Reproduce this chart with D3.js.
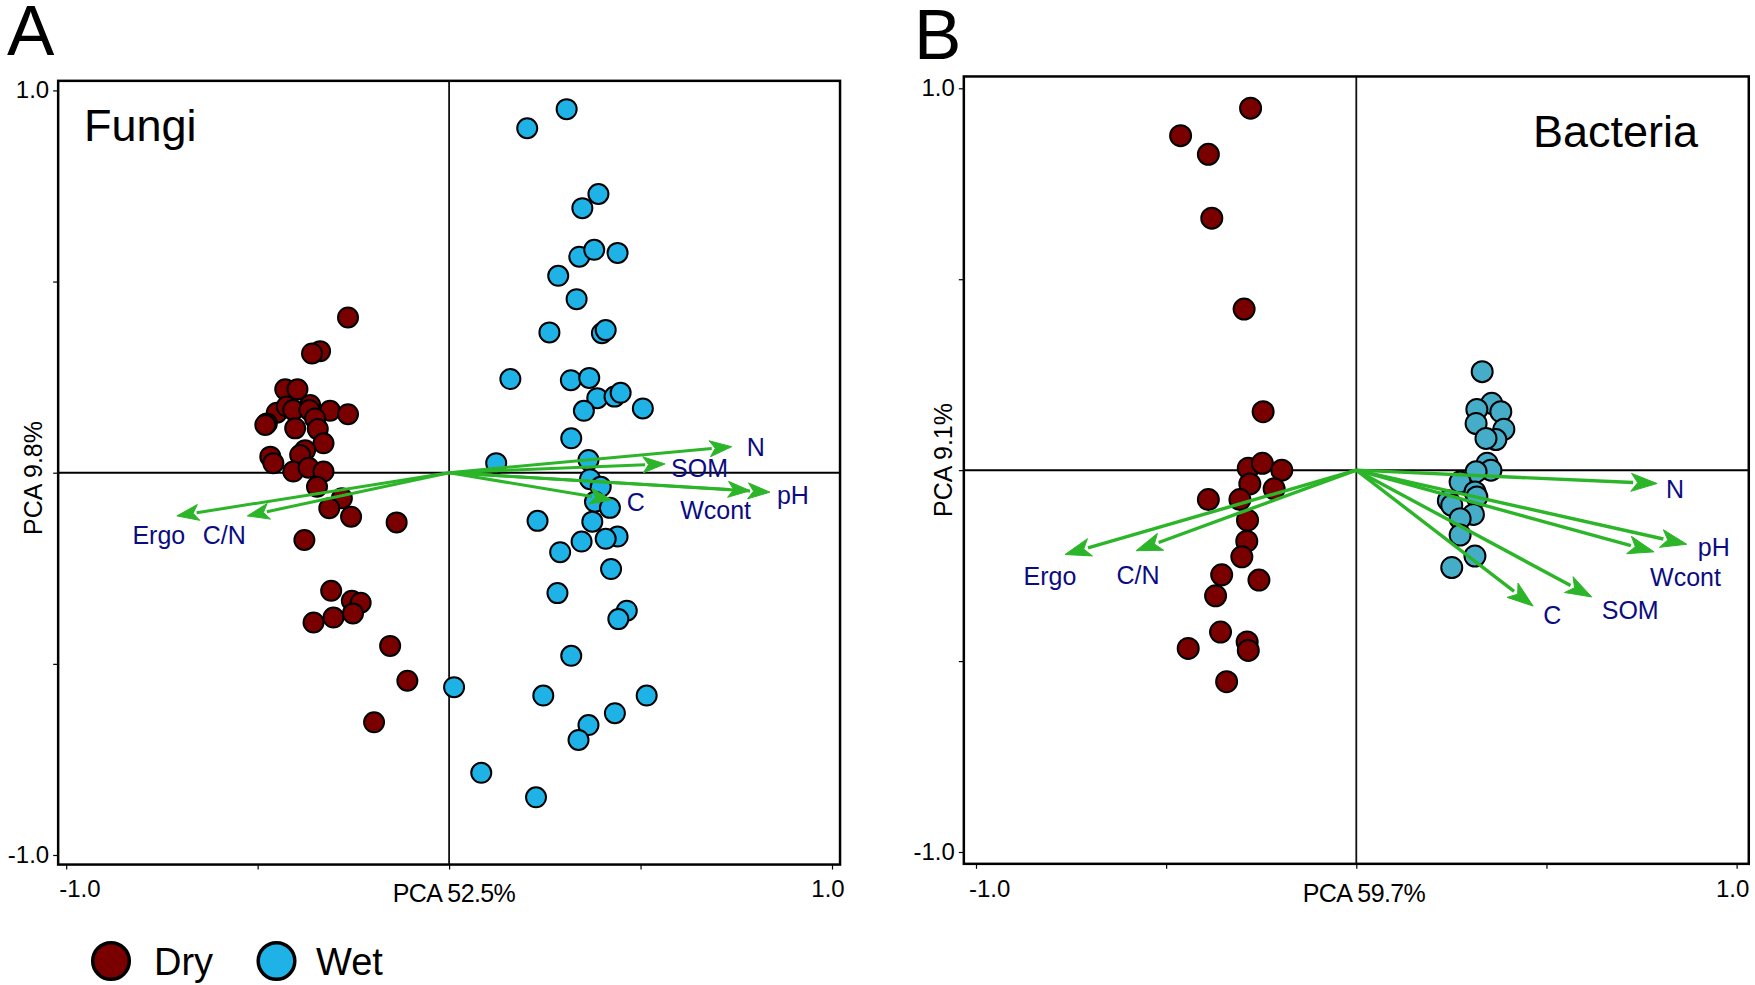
<!DOCTYPE html>
<html><head><meta charset="utf-8">
<script src="https://cdn.jsdelivr.net/npm/d3@7"></script>
<style>html,body{margin:0;padding:0;background:#fff;} svg{display:block;}</style>
</head><body>
<svg id="chart" width="1755" height="985"></svg>
<script>
// ---------------- DATA ----------------
const fungiDry = [
 [-0.264,0.406],[-0.337,0.318],[-0.358,0.312],[-0.428,0.218],[-0.396,0.218],[-0.450,0.157],
 [-0.424,0.173],[-0.407,0.164],[-0.363,0.177],[-0.365,0.164],[-0.311,0.162],[-0.264,0.153],
 [-0.476,0.129],[-0.480,0.125],[-0.350,0.142],[-0.402,0.116],[-0.343,0.114],[-0.328,0.077],
 [-0.467,0.042],[-0.459,0.025],[-0.376,0.059],[-0.389,0.046],[-0.407,0.003],[-0.367,0.013],
 [-0.328,0.003],[-0.345,-0.037],[-0.280,-0.067],[-0.313,-0.093],[-0.256,-0.115],[-0.137,-0.130],
 [-0.378,-0.176],[-0.308,-0.309],[-0.254,-0.335],[-0.231,-0.340],[-0.302,-0.379],[-0.251,-0.368],
 [-0.354,-0.392],[-0.154,-0.453],[-0.109,-0.544],[-0.196,-0.653]
];
const fungiWet = [
 [0.307,0.951],[0.204,0.901],[0.390,0.729],[0.348,0.692],[0.340,0.565],[0.379,0.583],
 [0.440,0.575],[0.285,0.515],[0.333,0.454],[0.262,0.367],[0.399,0.365],[0.409,0.373],
 [0.160,0.245],[0.318,0.242],[0.366,0.248],[0.387,0.195],[0.432,0.199],[0.448,0.209],
 [0.506,0.168],[0.352,0.162],[0.319,0.090],[0.123,0.025],[0.364,0.033],[0.368,-0.017],
 [0.396,-0.037],[0.381,-0.076],[0.420,-0.092],[0.231,-0.126],[0.374,-0.128],[0.440,-0.167],
 [0.409,-0.173],[0.346,-0.180],[0.290,-0.208],[0.423,-0.252],[0.283,-0.315],[0.464,-0.361],
 [0.442,-0.383],[0.319,-0.479],[0.013,-0.561],[0.246,-0.583],[0.516,-0.583],[0.433,-0.629],
 [0.364,-0.660],[0.338,-0.699],[0.084,-0.785],[0.227,-0.849]
];
const bactDry = [
 [-0.278,0.948],[-0.462,0.876],[-0.389,0.827],[-0.380,0.660],[-0.295,0.422],[-0.245,0.153],
 [-0.284,0.005],[-0.247,0.018],[-0.196,0.000],[-0.280,-0.036],[-0.216,-0.049],[-0.389,-0.077],
 [-0.306,-0.077],[-0.286,-0.131],[-0.288,-0.186],[-0.301,-0.227],[-0.354,-0.274],[-0.256,-0.288],
 [-0.370,-0.329],[-0.357,-0.424],[-0.442,-0.467],[-0.287,-0.450],[-0.284,-0.472],[-0.341,-0.554]
];
const bactWet = [
 [0.331,0.258],[0.356,0.175],[0.317,0.159],[0.380,0.153],[0.315,0.122],[0.388,0.107],
 [0.367,0.080],[0.341,0.083],[0.344,0.018],[0.354,0.000],[0.315,-0.004],[0.273,-0.031],
 [0.312,-0.057],[0.317,-0.070],[0.242,-0.080],[0.251,-0.092],[0.308,-0.116],[0.273,-0.127],
 [0.273,-0.170],[0.312,-0.225],[0.251,-0.255]
];
const variables  = ["N","SOM","pH","Wcont","C","Ergo","C/N"];
const fungiLoadX = [0.738, 0.564, 0.838, 0.786, 0.425,-0.711,-0.527];
const fungiLoadY = [0.068, 0.023,-0.051,-0.047,-0.071,-0.113,-0.113];
const bactLoadX  = [0.791, 0.619, 0.869, 0.783, 0.465,-0.766,-0.579];
const bactLoadY  = [-0.035,-0.332,-0.194,-0.214,-0.356,-0.221,-0.211];
const tickValues = [-1, -0.5, 0, 0.5, 1];
const tickLabels = {"-1":"-1.0", "1":"1.0"};
const groups = ["Dry","Wet"];

// ---------------- LAYOUT / STYLE ----------------
const FONT = "'Liberation Sans', Arial, Helvetica, sans-serif";
const C_DRY = "#7a0000", C_WETA = "#1fb2e6", C_WETB = "#45adc8";
const C_ARROW = "#2db52a", C_LAB = "#0c0c82";

const panels = [
 {letter:"A", title:"Fungi", xr:[66.2,832], yr:[855,90.4], pad:[0.021,0.025],
  dry:fungiDry, wet:fungiWet, wetColor:C_WETA, lx:fungiLoadX, ly:fungiLoadY,
  xlab:"PCA 52.5%", ylab:"PCA 9.8%", r:10, head:[22,8], aw:3,
  letterPos:[7,55], titlePos:[84,141,"start"], ylabPos:[42,478], xlabPos:[454,902],
  labOff:{"N":[15,0,"start"],"SOM":[6,4,"start"],"pH":[7,3,"start"],"Wcont":[1,19,"end"],
          "C":[15,2,"start"],"Ergo":[-18,19,"middle"],"C/N":[-23,19,"middle"]}},
 {letter:"B", title:"Bacteria", xr:[976,1736.6], yr:[852,88.3], pad:[0.032,0.031],
  dry:bactDry, wet:bactWet, wetColor:C_WETB, lx:bactLoadX, ly:bactLoadY,
  xlab:"PCA 59.7%", ylab:"PCA 9.1%", r:10.5, head:[26,9], aw:3.4,
  letterPos:[914,59], titlePos:[1698,147,"end"], ylabPos:[952,460], xlabPos:[1364,902],
  labOff:{"N":[9,5,"start"],"SOM":[10,13,"start"],"pH":[11,3,"start"],"Wcont":[-4,25,"start"],
          "C":[10,9,"start"],"Ergo":[-15,21,"middle"],"C/N":[2,24,"middle"]}}
];

const svg = d3.select("#chart");

panels.forEach(p => {
  const x = d3.scaleLinear().domain([-1,1]).range(p.xr);
  const y = d3.scaleLinear().domain([-1,1]).range(p.yr);
  const g = svg.append("g");
  const fl = x(-1-p.pad[0]), fr = x(1+p.pad[0]), ft = y(1+p.pad[1]), fb = y(-1-p.pad[1]);

  // center lines
  g.append("line").attr("x1",x(0)).attr("x2",x(0)).attr("y1",ft).attr("y2",fb)
    .attr("stroke","#111").attr("stroke-width",1.8);
  g.append("line").attr("x1",fl).attr("x2",fr).attr("y1",y(0)).attr("y2",y(0))
    .attr("stroke","#000").attr("stroke-width",2);

  // axes (ticks only)
  const xAxis = d3.axisBottom(x).tickValues(tickValues).tickSize(5).tickFormat("");
  const yAxis = d3.axisLeft(y).tickValues(tickValues).tickSize(5).tickFormat("");
  const gx = g.append("g").attr("transform",`translate(0,${fb})`).call(xAxis);
  const gy = g.append("g").attr("transform",`translate(${fl},0)`).call(yAxis);
  [gx,gy].forEach(a => { a.select(".domain").remove(); a.selectAll("line").attr("stroke","#000").attr("stroke-width",1.2); });

  // frame
  g.append("rect").attr("x",fl).attr("y",ft).attr("width",fr-fl).attr("height",fb-ft)
    .attr("fill","none").attr("stroke","#000").attr("stroke-width",2.5);

  // tick labels
  tickValues.filter(v => tickLabels[v]).forEach(v => {
    g.append("text").attr("x", v<0 ? x(v)-7 : x(v)-4).attr("y",897)
      .attr("text-anchor", v<0 ? "start" : "middle")
      .attr("font-family",FONT).attr("font-size",24).text(tickLabels[v]);
    g.append("text").attr("x", fl-9).attr("y", y(v)+8)
      .attr("text-anchor","end").attr("font-family",FONT).attr("font-size",24).text(tickLabels[v]);
  });

  // axis titles
  g.append("text").attr("x",p.xlabPos[0]).attr("y",p.xlabPos[1]).attr("text-anchor","middle")
    .attr("font-family",FONT).attr("font-size",25).attr("letter-spacing","-0.6").text(p.xlab);
  g.append("text").attr("transform",`translate(${p.ylabPos[0]},${p.ylabPos[1]}) rotate(-90)`)
    .attr("text-anchor","middle").attr("font-family",FONT).attr("font-size",25).text(p.ylab);

  // panel letter & title
  g.append("text").attr("x",p.letterPos[0]).attr("y",p.letterPos[1])
    .attr("font-family",FONT).attr("font-size",71).text(p.letter);
  g.append("text").attr("x",p.titlePos[0]).attr("y",p.titlePos[1]).attr("text-anchor",p.titlePos[2])
    .attr("font-family",FONT).attr("font-size",45).text(p.title);

  // points
  g.append("g").selectAll("circle").data(p.dry).join("circle")
    .attr("cx",d=>x(d[0])).attr("cy",d=>y(d[1])).attr("r",p.r)
    .attr("fill",C_DRY).attr("stroke","#000").attr("stroke-width",2);
  g.append("g").selectAll("circle").data(p.wet).join("circle")
    .attr("cx",d=>x(d[0])).attr("cy",d=>y(d[1])).attr("r",p.r)
    .attr("fill",p.wetColor).attr("stroke","#000").attr("stroke-width",2);

  // loading arrows
  const load = variables.map((v,i)=>({name:v, lx:p.lx[i], ly:p.ly[i]}));
  const ag = g.append("g");
  load.forEach(d => {
    const x0 = x(0), y0 = y(0), x1 = x(d.lx), y1 = y(d.ly);
    const L = Math.hypot(x1-x0, y1-y0), ux = (x1-x0)/L, uy = (y1-y0)/L;
    const [hl,hw] = p.head;
    const bx = x1-ux*hl, by = y1-uy*hl;
    ag.append("line").attr("x1",x0).attr("y1",y0).attr("x2",bx+ux*2).attr("y2",by+uy*2)
      .attr("stroke",C_ARROW).attr("stroke-width",p.aw);
    ag.append("path")
      .attr("d",`M${x1},${y1}L${bx-uy*hw},${by+ux*hw}L${bx+ux*hl*0.25},${by+uy*hl*0.25}L${bx+uy*hw},${by-ux*hw}Z`)
      .attr("fill",C_ARROW).attr("stroke",C_ARROW).attr("stroke-width",1).attr("stroke-linejoin","round");
    const o = p.labOff[d.name];
    g.append("text").attr("x",x1+o[0]).attr("y",y1+o[1]).attr("dy","0.36em")
      .attr("text-anchor",o[2]).attr("font-family",FONT).attr("font-size",25)
      .attr("fill",C_LAB).text(d.name);
  });
});

// legend
const legend = svg.append("g");
const legendX = [111, 276.5], legendText = [154, 316];
groups.forEach((gname,i) => {
  legend.append("circle").attr("cx",legendX[i]).attr("cy",961).attr("r",18.3)
    .attr("fill", i===0 ? C_DRY : C_WETA).attr("stroke","#000").attr("stroke-width",3.5);
  legend.append("text").attr("x",legendText[i]).attr("y",975).attr("font-family",FONT)
    .attr("font-size",38).text(gname);
});
</script>
</body></html>
